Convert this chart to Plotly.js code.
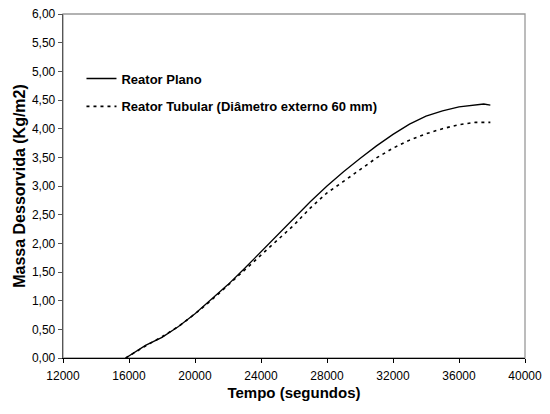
<!DOCTYPE html>
<html>
<head>
<meta charset="utf-8">
<script src="https://cdn.plot.ly/plotly-3.0.1.min.js"></script>
<style>html,body{margin:0;padding:0;background:#fff;}#chart{width:550px;height:414px;}</style>
</head>
<body>
<div id="chart"></div>
<script>
const seriesNames = ["Reator Plano", "Reator Tubular (Diâmetro externo 60 mm)"];

const tempoPlano = [15800, 16500, 17000, 18000, 19000, 20000, 21000, 22000, 23000, 24000, 25000, 26000, 27000, 28000, 29000, 30000, 31000, 32000, 33000, 34000, 35000, 36000, 37000, 37500, 37900];
const massaPlano = [0, 0.13, 0.22, 0.36, 0.55, 0.77, 1.02, 1.28, 1.56, 1.85, 2.14, 2.44, 2.73, 3.00, 3.25, 3.48, 3.70, 3.90, 4.08, 4.22, 4.31, 4.38, 4.42, 4.43, 4.41];

const tempoTubular = [15800, 16500, 17000, 18000, 19000, 20000, 21000, 22000, 23000, 24000, 25000, 26000, 27000, 28000, 29000, 30000, 31000, 32000, 33000, 34000, 35000, 36000, 37000, 37900];
const massaTubular = [0, 0.13, 0.21, 0.37, 0.55, 0.77, 1.01, 1.27, 1.53, 1.80, 2.06, 2.32, 2.62, 2.88, 3.08, 3.29, 3.49, 3.66, 3.80, 3.91, 4.00, 4.07, 4.11, 4.11];

const xTitle = "Tempo (segundos)";
const yTitle = "Massa Dessorvida (Kg/m2)";

const fontFam = "Liberation Sans, Arial, sans-serif";

const traces = [
  {
    x: tempoPlano, y: massaPlano, name: seriesNames[0], type: "scatter", mode: "lines",
    line: {color: "#000000", width: 1.3}, legendgroup: "a"
  },
  {
    x: tempoTubular, y: massaTubular, name: seriesNames[1], type: "scatter", mode: "lines",
    line: {color: "#000000", width: 1.6, dash: "3px,4px"}, legendgroup: "b"
  }
];

const layout = {
  width: 550, height: 414,
  margin: {l: 63, r: 25, t: 14, b: 56},
  paper_bgcolor: "#ffffff", plot_bgcolor: "#ffffff",
  separators: ",.",
  font: {family: fontFam, size: 12, color: "#000000"},
  showlegend: true,
  legend: {
    x: 0.04, y: 0.856, xanchor: "left", yanchor: "top",
    bgcolor: "rgba(0,0,0,0)", borderwidth: 0,
    font: {family: fontFam, size: 13, color: "#000000", weight: "bold"},
    tracegroupgap: 8, itemwidth: 30
  },
  xaxis: {
    range: [12000, 40000], tickvals: [12000, 16000, 20000, 24000, 28000, 32000, 36000, 40000],
    tickformat: "d", showgrid: false, zeroline: false,
    showline: true, linecolor: "#000000", linewidth: 1.3,
    ticks: "outside", ticklen: 4, tickcolor: "#000000", tickwidth: 1,
    ticklabelstandoff: 2,
    tickfont: {family: fontFam, size: 12, color: "#000000"},
    title: {text: xTitle, font: {family: fontFam, size: 15, color: "#000000", weight: "bold"}, standoff: 5}
  },
  yaxis: {
    range: [0, 6], dtick: 0.5, tickformat: ".2f", showgrid: false, zeroline: false,
    showline: true, linecolor: "#555555", linewidth: 1.3,
    ticks: "outside", ticklen: 4, tickcolor: "#555555", tickwidth: 1,
    tickfont: {family: fontFam, size: 12, color: "#000000"},
    title: {text: yTitle, font: {family: fontFam, size: 16, color: "#000000", weight: "bold"}, standoff: 2}
  },
  shapes: [
    {type: "rect", xref: "paper", yref: "paper", x0: 0, x1: 1, y0: 0, y1: 1,
     line: {color: "#999999", width: 1.3}, layer: "below"}
  ]
};

Plotly.newPlot("chart", traces, layout, {displayModeBar: false, staticPlot: true});
</script>
</body>
</html>
